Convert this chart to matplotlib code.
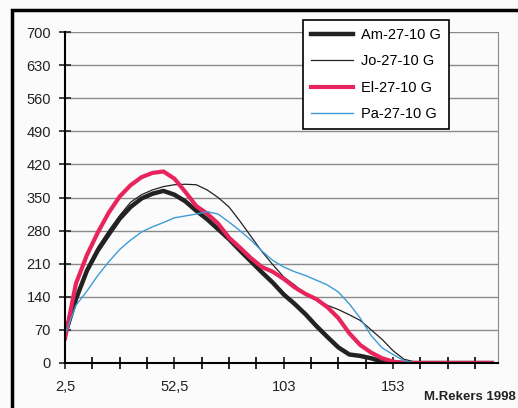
import numpy as np
import matplotlib.pyplot as plt
from matplotlib.patches import Rectangle

plt.rcParams['font.family'] = ['Liberation Sans', 'DejaVu Sans']

# sample positions (x axis)
x = np.arange(2.5, 200.1, 5)

# values, one per x (tail is zero)
am = [60, 135, 195, 238, 272, 305, 330, 348, 358, 364, 356, 342, 322, 304,
      283, 262, 238, 215, 192, 170, 145, 125, 103, 78, 55, 33, 18, 15, 10, 3, 1]
jo = [60, 135, 200, 245, 280, 312, 340, 356, 366, 373, 377, 378, 377, 366,
      350, 330, 300, 268, 236, 208, 182, 165, 145, 133, 122, 113, 102, 90, 70,
      50, 26, 8, 2]
el = [52, 168, 228, 276, 318, 352, 376, 393, 402, 405, 390, 362, 332, 316,
      295, 265, 244, 222, 203, 193, 178, 160, 146, 135, 118, 95, 63, 38, 22,
      10, 3]
pa = [60, 122, 152, 185, 214, 240, 260, 277, 288, 297, 307, 311, 315, 320,
      315, 298, 280, 260, 237, 217, 203, 193, 185, 175, 165, 150, 125, 95, 58,
      32, 18, 5]


def pad(v):
    return np.array(v + [0] * (len(x) - len(v)), dtype=float)


series = [('Am-27-10 G', pad(am), '#222222', 3.2),
          ('Jo-27-10 G', pad(jo), '#222222', 0.9),
          ('El-27-10 G', pad(el), '#e8245c', 3.0),
          ('Pa-27-10 G', pad(pa), '#3d9bd6', 1.0)]

yticks = np.arange(0, 701, 70)
xlabels = ['2,5', '52,5', '103', '153']

fig = plt.figure(figsize=(5.18, 4.08), dpi=100)
fig.patch.set_facecolor('#fbfbfb')
ax = fig.add_axes([65 / 518, 1 - 363 / 408, 433 / 518, 331 / 408])
ax.set_facecolor('#fbfbfb')

for name, y, col, lw in series:
    ax.plot(x, y, color=col, lw=lw, label=name, solid_joinstyle='round')

ax.set_xlim(2.5, 200.5)
ax.set_ylim(0, 700)
ax.set_yticks(yticks)
ax.set_xticks([2.5, 52.5, 102.5, 152.5])
ax.set_xticklabels(xlabels)
ax.set_xticks(np.arange(2.5, 200, 12.5), minor=True)
ax.yaxis.grid(True, color='#8a8a8a', lw=1)
ax.set_axisbelow(True)
ax.tick_params(axis='both', direction='inout', length=8, width=1.2,
               labelsize=10.5, colors='#222222')
ax.tick_params(axis='x', which='minor', direction='inout', length=8, width=1.2)
ax.tick_params(axis='x', pad=8)
ax.tick_params(axis='y', pad=6)
for s in ['left', 'bottom']:
    ax.spines[s].set_linewidth(1.5)
ax.spines['top'].set_visible(False)
ax.spines['right'].set_color('#8a8a8a')

leg = ax.legend(loc='upper left', bbox_to_anchor=(303 / 518, 1 - 20 / 408),
                bbox_transform=fig.transFigure, fontsize=10.5, frameon=True,
                fancybox=False, edgecolor='black', framealpha=1,
                handlelength=2.9, handletextpad=0.5, labelspacing=0.85,
                borderpad=0.55, borderaxespad=0)
leg.get_frame().set_linewidth(1.2)

fig.text(516 / 518, 1 - 397 / 408, 'M.Rekers 1998', fontsize=9.5,
         fontweight='bold', ha='right', va='center', color='#222222')

fig.patches.append(Rectangle((12 / 518, -0.1), 1.1, 1.1 - 10 / 408,
                             transform=fig.transFigure, fill=False,
                             lw=2.5, ec='black'))

fig.savefig('out.png', dpi=100, facecolor=fig.get_facecolor())
